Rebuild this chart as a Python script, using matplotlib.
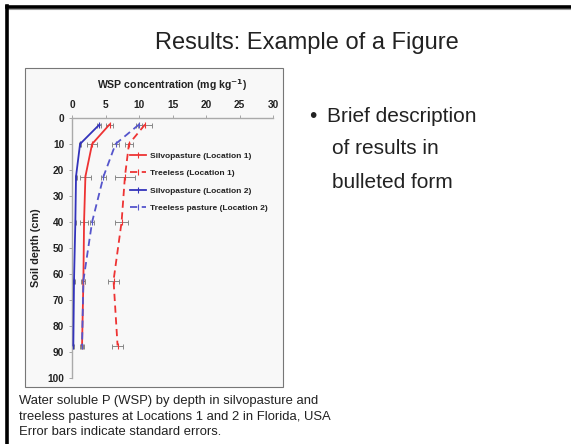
import matplotlib
matplotlib.use("Agg")
import matplotlib.pyplot as plt
from matplotlib.patches import Rectangle
from matplotlib.lines import Line2D

plt.rcParams['font.family'] = ['Liberation Sans', 'DejaVu Sans']

depth = [2.5, 10, 22.5, 40, 62.5, 87.5]
silvo_loc1 = [5.6, 3.0, 2.0, 1.8, 1.7, 1.5]
silvo_loc1_err = [0.5, 0.8, 0.8, 0.6, 0.3, 0.3]
treeless_loc1 = [10.9, 8.5, 7.9, 7.4, 6.2, 6.8]
treeless_loc1_err = [1.0, 0.6, 1.5, 1.0, 0.8, 0.8]
silvo_loc2 = [4.1, 1.2, 0.6, 0.5, 0.3, 0.2]
silvo_loc2_err = [0.3, 0.2, 0.1, 0.1, 0.1, 0.1]
treeless_loc2 = [10.0, 6.5, 4.7, 3.0, 1.7, 1.5]
treeless_loc2_err = [0.4, 0.5, 0.3, 0.3, 0.2, 0.2]

labels = ["Silvopasture (Location 1)", "Treeless (Location 1)",
          "Silvopasture (Location 2)", "Treeless pasture (Location 2)"]
xticks = [0, 5, 10, 15, 20, 25, 30]
yticks = [0, 10, 20, 30, 40, 50, 60, 70, 80, 90, 100]

W, H = 571, 444
fig = plt.figure(figsize=(W / 100, H / 100), dpi=100)
fig.patch.set_facecolor('white')

def fx(px):
    return px / W

def fy(py):
    return 1 - py / H

# slide border lines
fig.add_artist(Line2D([fx(7), 1], [fy(7), fy(7)], color='black', lw=2.6, transform=fig.transFigure))
fig.add_artist(Line2D([fx(7), 1], [fy(9.5), fy(9.5)], color='#999999', lw=0.8, transform=fig.transFigure))
fig.add_artist(Line2D([fx(7), fx(7)], [fy(6), 0], color='black', lw=2.6, transform=fig.transFigure))

# title
fig.text(fx(307), fy(43), "Results: Example of a Figure", ha='center', va='center', fontsize=17, color='#222222')

# chart box
fig.add_artist(Rectangle((fx(25), fy(387)), fx(283) - fx(25), fy(68) - fy(387),
                         transform=fig.transFigure, facecolor='#f8f8f8', edgecolor='#777777',
                         lw=0.8, zorder=-5))

ax = fig.add_axes([fx(72), fy(378), fx(273) - fx(72), fy(118) - fy(378)])
ax.set_zorder(2)
ax.set_facecolor('none')
ax.set_xlim(0, 30)
ax.set_ylim(100, 0)
ax.xaxis.tick_top()
ax.xaxis.set_label_position('top')
ax.set_xticks(xticks)
ax.set_yticks(yticks)
ax.tick_params(axis='both', labelsize=7.3, colors='#999999', length=2.5, width=0.6, pad=3)
for lbl in ax.get_xticklabels() + ax.get_yticklabels():
    lbl.set_color('#222222')
    lbl.set_fontweight('bold')
for s in ['right', 'bottom']:
    ax.spines[s].set_visible(False)
for s in ['left', 'top']:
    ax.spines[s].set_color('#aaaaaa')
    ax.spines[s].set_linewidth(1.0)
ax.set_xlabel("WSP concentration (mg kg$^{\\mathbf{-1}}$)", fontsize=7.6, fontweight='bold', labelpad=8, color='#222222')
ax.set_ylabel("Soil depth (cm)", fontsize=7.8, fontweight='bold', labelpad=5, color='#222222')

series = [
    (silvo_loc1, silvo_loc1_err, '#ee3333', '-'),
    (treeless_loc1, treeless_loc1_err, '#ee3333', (0, (4, 2.5))),
    (silvo_loc2, silvo_loc2_err, '#3333bb', '-'),
    (treeless_loc2, treeless_loc2_err, '#5555cc', (0, (4, 2.5))),
]
handles = []
for (vals, err, col, ls), lab in zip(series, labels):
    ax.errorbar(vals, depth, xerr=err, fmt='none', ecolor='#888888', elinewidth=0.7,
                capsize=1.8, capthick=0.7, zorder=2)
    h, = ax.plot(vals, depth, color=col, linestyle=ls, lw=1.3, marker='|', ms=4,
                 mew=0.8, label=lab, zorder=3)
    handles.append(h)

leg = ax.legend(handles=handles, loc='upper left', bbox_to_anchor=(fx(130), fy(152)),
                bbox_transform=fig.transFigure,
                frameon=False, fontsize=6.0, handlelength=1.9, handletextpad=0.55,
                labelspacing=1.15, borderaxespad=0, borderpad=0)
for t in leg.get_texts():
    t.set_fontweight('bold')
    t.set_color('#222222')

# bullet text
fs = 15
fig.text(fx(309), fy(116), "\u2022", ha='left', va='center', fontsize=fs, color='#222222')
fig.text(fx(327), fy(116), "Brief description", ha='left', va='center', fontsize=fs, color='#222222')
fig.text(fx(332), fy(149), "of results in", ha='left', va='center', fontsize=fs, color='#222222')
fig.text(fx(332), fy(182), "bulleted form", ha='left', va='center', fontsize=fs, color='#222222')

# caption
cap = ["Water soluble P (WSP) by depth in silvopasture and",
       "treeless pastures at Locations 1 and 2 in Florida, USA",
       "Error bars indicate standard errors."]
for i, line in enumerate(cap):
    fig.text(fx(19), fy(401 + 15.5 * i), line, ha='left', va='center', fontsize=9.4, color='#222222')

fig.savefig("out.png", dpi=100)
